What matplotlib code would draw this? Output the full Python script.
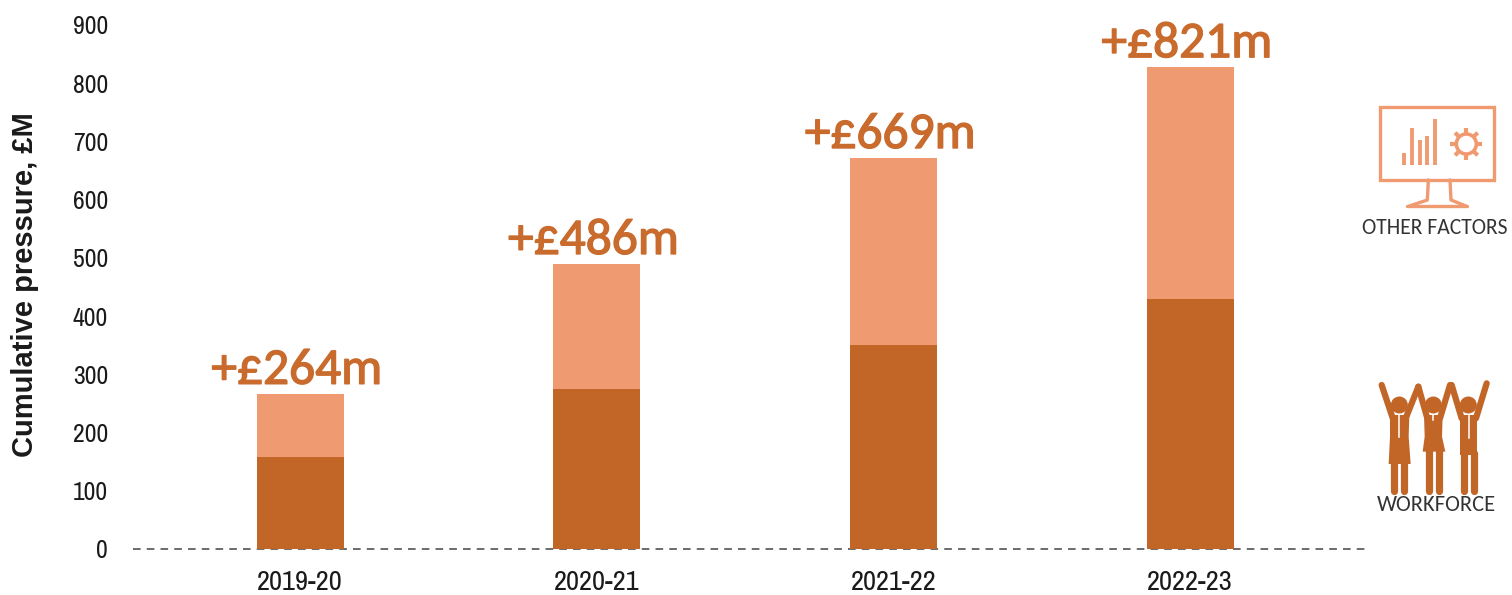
import matplotlib
matplotlib.use("Agg")
import matplotlib.pyplot as plt
import matplotlib.patheffects as pe
from matplotlib.patches import Polygon, Rectangle, Circle
import numpy as np

years = ["2019-20", "2020-21", "2021-22", "2022-23"]
workforce = [158, 275, 351, 429]
other = [109, 215, 321, 399]
labels = ["+£264m", "+£486m", "+£669m", "+£821m"]
yticks = list(range(0, 1000, 100))

DARK = "#C26628"
LIGHT = "#F09A72"
LABEL = "#C96B2C"
TXT = "#1a1a1a"
narrow = "Archivo Narrow"
W, H = 1512, 595
fig = plt.figure(figsize=(W / 100, H / 100), dpi=100, facecolor="white")

x0, x1, y_top, y_base = 133, 1370, 25, 549
ax = fig.add_axes([x0 / W, 1 - y_base / H, (x1 - x0) / W, (y_base - y_top) / H])
ax.set_xlim(-0.563, 3.606)
ax.set_ylim(0, 900)
x = np.arange(len(years))
ax.bar(x, workforce, width=0.293, color=DARK, zorder=2, clip_on=False)
ax.bar(x, other, width=0.293, bottom=workforce, color=LIGHT, zorder=2, clip_on=False)
tot = np.array(workforce) + np.array(other)
for xi, t, lab in zip(x, tot, labels):
    ax.text(xi - 0.012, t + 3, lab, ha="center", va="bottom", family="Carlito", fontsize=37,
            fontweight="normal", color=LABEL, clip_on=False,
            path_effects=[pe.withStroke(linewidth=1.0, foreground=LABEL)])
for s in ["top", "right", "left", "bottom"]:
    ax.spines[s].set_visible(False)
ax.axhline(0, color="#444444", lw=1.1, ls=(0, (5, 4)), zorder=1, clip_on=False)
ax.set_xticks(x, years, family=narrow, fontsize=20.5, color=TXT)
ax.set_yticks(yticks, [str(v) for v in yticks], family=narrow, fontsize=18.5, color=TXT)
ax.tick_params(axis="both", length=0)
ax.tick_params(axis="x", pad=15)
ax.tick_params(axis="y", pad=18)
ax.set_ylabel("Cumulative pressure, £M", family="Liberation Sans", fontweight="bold",
              fontsize=21, color=TXT)
ax.yaxis.set_label_coords((39 - x0) / (x1 - x0), (549 - 285) / 524)

# overlay in pixel coordinates for the icons
ov = fig.add_axes([0, 0, 1, 1], facecolor="none")
ov.set_xlim(0, W)
ov.set_ylim(H, 0)
ov.axis("off")

def z1(px, py):
    return 1350 + px / 3, 90 + py / 3

def z2(px, py):
    return 1350 + px / 3, 370 + py / 3

# monitor icon
(a, b), (c, d) = z1(90, 52), z1(432, 270)
ov.add_patch(Rectangle((a, b), c - a, d - b, fill=False, ec=LIGHT, lw=2.4))
for bx, top in zip([162, 186, 210, 232, 256], [190, 115, 150, 138, 88]):
    p, q = z1(bx, 225), z1(bx, top)
    ov.plot([p[0], q[0]], [p[1], q[1]], color=LIGHT, lw=2.8, solid_capstyle="butt")
gx, gy = z1(349, 162)
ov.add_patch(Circle((gx, gy), 10, fill=False, ec=LIGHT, lw=2.6))
for t in np.deg2rad(np.arange(0, 360, 45)):
    ov.plot([gx + 10 * np.cos(t), gx + 16 * np.cos(t)], [gy + 10 * np.sin(t), gy + 16 * np.sin(t)],
            color=LIGHT, lw=3, solid_capstyle="butt")
for seg in ([(235, 270), (232, 330), (178, 348)], [(300, 270), (303, 330), (348, 348)], [(172, 348), (352, 348)]):
    pts = np.array([z1(*s) for s in seg])
    ov.plot(pts[:, 0], pts[:, 1], color=LIGHT, lw=2.4, solid_capstyle="round")
ov.text(1435, 228, "OTHER FACTORS", ha="center", va="center", family="Carlito", fontsize=15.6, color="#333333")

# workforce icon
def line(pts, lw):
    arr = np.array([z2(*s) for s in pts])
    ov.plot(arr[:, 0], arr[:, 1], color=DARK, lw=lw, solid_capstyle="round")

people = [
    dict(head=(148, 105), arms=[(95, 45), (130, 150), (205, 50), (165, 150)],
         torso=[(120, 135), (178, 135), (176, 200), (182, 282), (116, 282), (120, 200)],
         legs=[(133, 280, 362), (163, 280, 362)], tie=(148, 135, 200)),
    dict(head=(250, 105), arms=[(205, 50), (232, 145), (300, 45), (270, 145)],
         torso=[(222, 135), (278, 135), (276, 200), (286, 245), (218, 245), (224, 200)],
         legs=[(236, 240, 362), (266, 240, 362)], tie=(250, 135, 150)),
    dict(head=(355, 105), arms=[(305, 45), (335, 145), (410, 40), (378, 145)],
         torso=[(331, 135), (382, 135), (382, 255), (331, 255)],
         legs=[(343, 250, 362), (371, 250, 362)], tie=(356, 135, 205)),
]
for person in people:
    hx, hy = z2(*person["head"])
    ov.add_patch(Circle((hx, hy), 8.5, color=DARK, ec="none"))
    a = person["arms"]
    line(a[:2], 4.5)
    line(a[2:], 4.5)
    ov.add_patch(Polygon([z2(*s) for s in person["torso"]], closed=True, color=DARK, ec="none"))
    for lx, l0, l1 in person["legs"]:
        line([(lx, l0), (lx, l1)], 5.2)
    tx, t0, t1 = person["tie"]
    p, q = z2(tx, t0), z2(tx, t1)
    ov.plot([p[0], q[0]], [p[1], q[1]], color="white", lw=1.1)
ov.text(1436, 505, "WORKFORCE", ha="center", va="center", family="Carlito", fontsize=16.2, color="#333333")

fig.savefig("out.png", dpi=100, facecolor="white")
